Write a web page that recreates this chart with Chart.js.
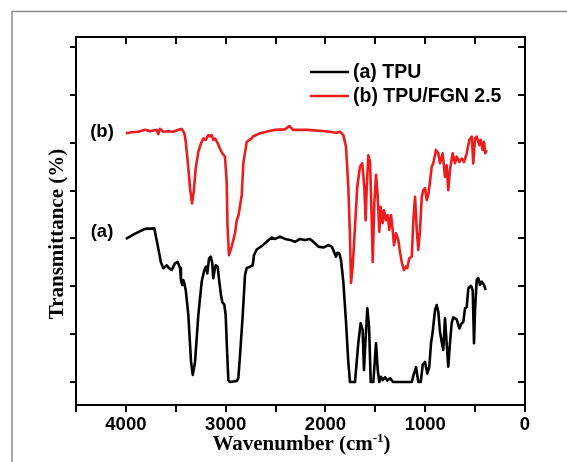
<!DOCTYPE html>
<html><head><meta charset="utf-8">
<script src="https://cdn.jsdelivr.net/npm/chart.js@4/dist/chart.umd.min.js"></script>
<style>html,body{margin:0;padding:0;background:#fff;}canvas{display:block;}</style>
</head><body>
<canvas id="c" width="567" height="462"></canvas>
<script>
// ---- data ----
const seriesNames = ['(a) TPU', '(b) TPU/FGN 2.5'];
const curveTags = ['(a)', '(b)'];
const seriesColors = ['#000000', '#ee1c1c'];

const wnA = [
 4000,3908,3808,3715,3675,3650,3625,3591,3568,3541,
 3508,3481,3457,3448,3435,3425,3414,3400,3374,3347,
 3330,3307,3274,3240,3214,3197,3184,3167,3150,3134,
 3124,3114,3100,3080,3064,3047,3034,3014,3000,2987,
 2973,2956,2889,2873,2856,2829,2806,2789,2756,2729,
 2716,2689,2639,2589,2539,2505,2455,2405,2355,2305,
 2255,2205,2155,2105,2072,2021,1971,1937,1914,1894,
 1881,1861,1844,1821,1794,1771,1754,1704,1671,1647,
 1627,1614,1600,1580,1563,1546,1520,1493,1476,1460,
 1443,1426,1403,1380,1353,1320,1135,1112,1092,1069,
 1045,1025,1002,979,959,942,925,902,885,869,
 852,835,819,802,785,769,752,735,719,685,
 658,634,618,601,584,568,541,524,511,501,
 484,468,451,434,411,394];
const tA = [
 29.9,31.0,32.0,32.1,27.9,25.1,23.8,24.4,23.8,23.4,
 24.8,25.1,23.8,21.3,20.3,21.3,20.6,19.2,14.0,4.2,
 1.5,4.2,14.0,21.0,23.4,24.1,22.7,25.8,26.2,24.8,
 21.7,23.0,24.4,24.1,21.0,18.2,16.7,16.2,14.0,7.0,
 0.4,0.0,0.2,0.8,5.6,14.0,22.4,23.8,24.1,24.4,
 26.5,27.7,28.4,29.3,30.2,29.9,30.4,29.9,29.7,29.3,
 29.9,29.7,29.9,29.0,28.3,28.1,28.6,28.3,27.2,26.2,
 27.0,26.9,25.5,21.0,12.6,4.2,0.0,0.0,8.1,12.3,
 10.9,2.5,8.1,15.4,11.6,0.0,0.0,8.1,2.5,0.0,
 1.1,0.4,1.0,0.3,0.8,0.0,0.0,1.8,3.1,0.0,
 0.0,3.6,4.2,1.8,3.2,8.1,10.5,15.0,16.1,14.7,
 10.5,8.4,6.7,13.3,8.1,3.2,8.1,12.3,13.5,13.1,
 11.2,12.3,12.6,15.4,15.7,19.6,20.1,19.2,8.1,15.0,
 21.3,21.7,20.3,21.0,20.3,19.2];

const wnB = [
 4000,3942,3876,3808,3758,3691,3675,3658,3625,3575,
 3525,3475,3441,3414,3400,3380,3357,3337,3320,3300,
 3274,3247,3224,3200,3174,3157,3140,3124,3107,3080,
 3057,3034,3007,2990,2982,2967,2940,2906,2889,2873,
 2863,2839,2823,2789,2739,2726,2652,2507,2405,2362,
 2325,2181,1999,1891,1854,1821,1794,1771,1754,1744,
 1727,1704,1681,1654,1631,1611,1597,1586,1570,1553,
 1536,1526,1510,1493,1476,1460,1446,1426,1413,1393,
 1376,1360,1343,1326,1313,1293,1270,1253,1236,1213,
 1193,1180,1160,1135,1119,1102,1085,1069,1052,1035,
 1019,1002,985,969,952,935,919,892,869,852,
 825,802,785,769,752,725,702,685,658,634,
 611,584,558,534,518,501,484,458,444,424,
 411,398,384];
const tB = [
 52.0,52.2,52.3,52.7,52.4,52.7,51.8,52.9,52.3,52.4,
 52.3,52.7,52.9,52.0,50.2,46.0,40.5,37.3,39.8,44.7,
 48.1,49.9,50.9,50.6,51.6,51.3,51.6,50.6,50.9,49.9,
 48.8,47.8,47.1,41.9,32.8,26.5,28.3,31.1,33.8,34.7,
 35.9,39.1,45.7,50.2,50.9,51.3,52.0,52.7,52.8,53.5,
 52.7,52.7,52.4,52.1,52.3,51.6,49.2,40.8,30.4,20.7,
 24.1,32.4,40.8,45.0,45.7,40.8,33.8,40.8,47.4,46.0,
 33.8,25.1,37.3,43.3,38.7,31.4,36.6,33.2,35.9,33.8,
 34.9,31.8,34.9,31.8,28.6,31.1,29.7,27.2,25.1,23.4,
 24.1,23.8,25.8,26.2,33.8,38.7,31.8,27.6,31.8,38.7,
 40.1,40.5,38.0,39.1,41.9,45.0,45.7,48.5,47.8,45.7,
 47.8,42.9,45.3,40.1,44.3,47.8,45.7,47.1,46.0,46.7,
 46.0,47.8,50.6,51.3,45.7,50.9,51.3,49.5,50.6,48.5,
 50.2,47.8,48.5];

const xTickLabels = [4000, 3000, 2000, 1000, 0];
const yTicks = [0, 10, 20, 30, 40, 50, 60, 70];
const xMin = 0, xMax = 4500, yMin = -4.8, yMax = 72.1;

// ---- chart ----
const toPts = (xs, ys) => xs.map((x, i) => ({x: x, y: ys[i]}));
const LBL = '"Liberation Sans", Arial, sans-serif';
const SERIF = '"Liberation Serif", "Times New Roman", serif';

const deco = {
  id: 'deco',
  afterDraw(chart) {
    const ctx = chart.ctx;
    ctx.save();
    // outer figure frame
    ctx.strokeStyle = '#8c8c8c'; ctx.lineWidth = 1.5;
    ctx.beginPath(); ctx.moveTo(12, 462); ctx.lineTo(12, 11.5); ctx.lineTo(567, 11.5); ctx.stroke();
    // y title
    ctx.fillStyle = '#000';
    ctx.save();
    ctx.translate(58, 234); ctx.rotate(-Math.PI / 2);
    ctx.font = 'bold 21px ' + SERIF; ctx.textAlign = 'center'; ctx.textBaseline = 'middle';
    ctx.fillText('Transmittance (%)', 0, 0);
    ctx.restore();
    // x title with superscript
    const p1 = 'Wavenumber (cm', sup = '-1', p2 = ')';
    ctx.font = 'bold 21px ' + SERIF; const w1 = ctx.measureText(p1).width, w3 = ctx.measureText(p2).width;
    ctx.font = 'bold 13px ' + SERIF; const w2 = ctx.measureText(sup).width;
    let x0 = (chart.chartArea.left + chart.chartArea.right) / 2 + 1 - (w1 + w2 + w3) / 2;
    const base = 450;
    ctx.textAlign = 'left'; ctx.textBaseline = 'alphabetic';
    ctx.font = 'bold 21px ' + SERIF; ctx.fillText(p1, x0, base);
    ctx.font = 'bold 13px ' + SERIF; ctx.fillText(sup, x0 + w1, base - 8);
    ctx.font = 'bold 21px ' + SERIF; ctx.fillText(p2, x0 + w1 + w2, base);
    // legend
    ctx.font = 'bold 19.5px ' + LBL; ctx.textBaseline = 'middle';
    chart.data.datasets.forEach((ds, i) => {
      const ly = 72 + i * 24;
      ctx.strokeStyle = ds.borderColor; ctx.lineWidth = 2.6;
      ctx.beginPath(); ctx.moveTo(310, ly); ctx.lineTo(349, ly); ctx.stroke();
      ctx.fillStyle = '#000'; ctx.fillText(ds.label, 353, ly + 1);
    });
    // curve tags
    ctx.font = 'bold 18.5px ' + LBL; ctx.textAlign = 'center';
    ctx.fillText(curveTags[1], 102, 132);
    ctx.fillText(curveTags[0], 102, 232);
    ctx.restore();
  }
};

const gridOpts = (len) => ({drawOnChartArea: false, color: '#000', lineWidth: 2, tickLength: len});
const borderOpts = {color: '#000', width: 2};

new Chart(document.getElementById('c'), {
  type: 'line',
  data: {
    datasets: [
      {label: seriesNames[0], data: toPts(wnA, tA), borderColor: seriesColors[0], borderWidth: 2.6, pointRadius: 0, tension: 0, borderJoinStyle: 'round', xAxisID: 'x', yAxisID: 'y'},
      {label: seriesNames[1], data: toPts(wnB, tB), borderColor: seriesColors[1], borderWidth: 2.6, pointRadius: 0, tension: 0, borderJoinStyle: 'round', xAxisID: 'x', yAxisID: 'y'}
    ]
  },
  options: {
    responsive: false, animation: false, devicePixelRatio: 1,
    layout: {padding: {top: 37, right: 42, bottom: 0, left: 0}},
    plugins: {legend: {display: false}, tooltip: {enabled: false}},
    scales: {
      x: {type: 'linear', position: 'bottom', reverse: true, min: xMin, max: xMax,
          grid: gridOpts(7), border: borderOpts,
          ticks: {stepSize: 500, autoSkip: false, maxRotation: 0, padding: 2, color: '#000',
                  font: {family: LBL, size: 18.5, weight: 'bold'},
                  callback: (v) => xTickLabels.includes(v) ? String(v) : ''},
          afterFit: (s) => { s.height = 57; }},
      x2: {type: 'linear', position: 'top', reverse: true, min: xMin, max: xMax,
          grid: gridOpts(-7), border: borderOpts,
          ticks: {stepSize: 500, display: false},
          afterFit: (s) => { s.height = 0; }},
      y: {type: 'linear', position: 'left', min: yMin, max: yMax,
          grid: gridOpts(6), border: borderOpts, ticks: {display: false},
          afterBuildTicks: (s) => { s.ticks = yTicks.map(v => ({value: v})); },
          afterFit: (s) => { s.width = 76; }},
      y2: {type: 'linear', position: 'right', min: yMin, max: yMax,
          grid: gridOpts(-7), border: borderOpts, ticks: {display: false},
          afterBuildTicks: (s) => { s.ticks = yTicks.map(v => ({value: v})); },
          afterFit: (s) => { s.width = 0; }}
    }
  },
  plugins: [deco]
});
</script>
</body></html>
